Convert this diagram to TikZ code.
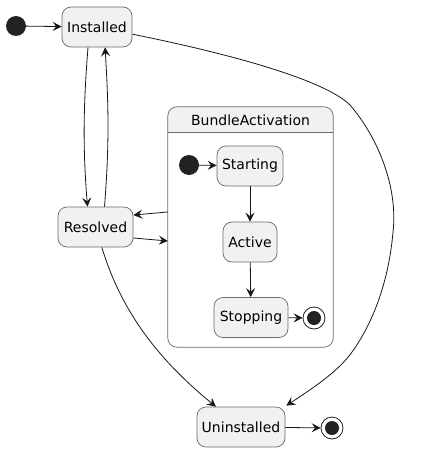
\documentclass[tikz,border=0pt]{standalone}
\usepackage{fontspec}
\setmainfont{DejaVu Sans}
\usetikzlibrary{arrows.meta}
\definecolor{statefill}{HTML}{F1F1F1}
\definecolor{stateline}{HTML}{6A6A6A}
\definecolor{edgecol}{HTML}{181818}
\definecolor{dotcol}{HTML}{222222}
\begin{document}
\begin{tikzpicture}[x=1pt,y=-1pt,
  font=\fontsize{14}{16}\selectfont,
  statebox/.style={draw=stateline, fill=statefill, line width=0.7pt, rounded corners=9pt, minimum height=40pt, inner sep=0pt, text=black},
  startdot/.style={circle, fill=dotcol, minimum size=20pt, inner sep=0pt},
  enddot/.style={circle, draw=dotcol, line width=0.8pt, fill=white, minimum size=22pt, inner sep=0pt, path picture={\fill[dotcol] (path picture bounding box.center) circle (7pt);}},
  arr/.style={draw=edgecol, line width=0.8pt, -{Stealth[length=9pt,width=9pt,inset=3.5pt]}}]
\useasboundingbox (0,0) rectangle (420,452);
% cluster
\node (bundle) [minimum width=165pt, minimum height=240pt, inner sep=0pt] at (250.5,227) {};
\begin{scope}
\clip[rounded corners=9pt] (bundle.north west) rectangle (bundle.south east);
\fill[white] (bundle.north west) rectangle (bundle.south east);
\fill[statefill] (bundle.north west) rectangle ([yshift=-26pt]bundle.north east);
\end{scope}
\draw[stateline, line width=0.7pt, rounded corners=9pt] (bundle.north west) rectangle (bundle.south east);
\draw[stateline, line width=0.7pt] ([yshift=-26pt]bundle.north west) -- ([yshift=-26pt]bundle.north east);
\node (bundlelabel) at (250.5,120) {BundleActivation};
% states
\node (init) [startdot] at (16,26) {};
\node (inst) [statebox, minimum width=70pt] at (97,27) {Installed};
\node (res) [statebox, minimum width=75pt] at (95.5,227) {Resolved};
\node (unin) [statebox, minimum width=88pt] at (241,427) {Uninstalled};
\node (fin) [enddot] at (332,428) {};
\node (iinit) [startdot] at (189,165) {};
\node (start) [statebox, minimum width=66pt] at (250,166) {Starting};
\node (act) [statebox, minimum width=54pt] at (250,242) {Active};
\node (stop) [statebox, minimum width=74pt] at (251,317.5) {Stopping};
\node (ifin) [enddot] at (314,318) {};
% edges
\draw[arr] (init) -- (inst);
\draw[arr] ([xshift=-9pt]inst.south) .. controls (83,110) and (83,150) .. ([xshift=-8pt]res.north);
\draw[arr] ([xshift=9pt]res.north) .. controls (109,150) and (109,110) .. ([xshift=8pt]inst.south);
\draw[arr] (bundle.west |- 0,212) -- ([yshift=12pt]res.east);
\draw[arr] ([yshift=-11pt]res.east) -- (bundle.west |- 0,241);
\draw[arr] (res) .. controls (115,290) and (140,345) .. (unin);
\draw[arr] (inst) .. controls (260,60) and (330,85) .. (350,105)
  .. controls (380,140) and (398,190) .. (393,232)
  .. controls (388,290) and (368,330) .. (352,352)
  .. controls (338,372) and (310,390) .. ([xshift=1pt,yshift=1pt]unin.north east);
\draw[arr] (unin) -- (fin);
\draw[arr] (iinit) -- (start);
\draw[arr] (start) -- (act);
\draw[arr] (act) -- (stop);
\draw[arr] (stop) -- (ifin);
\end{tikzpicture}
\end{document}
